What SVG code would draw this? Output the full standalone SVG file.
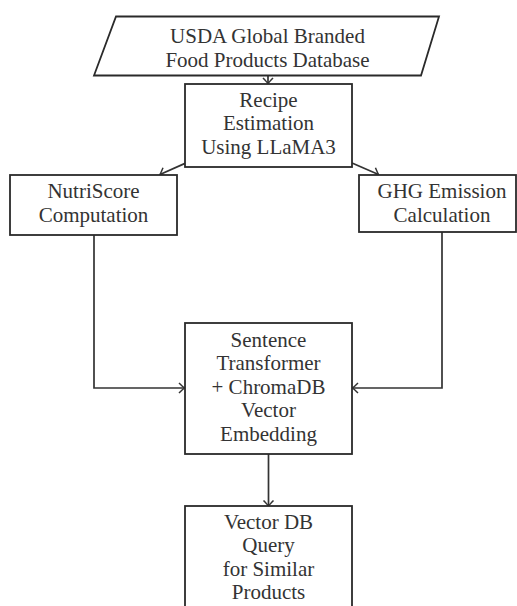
<svg xmlns="http://www.w3.org/2000/svg" width="517" height="606" viewBox="0 0 517 606">
<style>
.box{fill:#fff;stroke:#2a2a2a;stroke-width:1.8}
.t{font-family:"Liberation Serif","Times New Roman",serif;font-size:21px;fill:#333;text-anchor:middle}
.c{fill:none;stroke:#333;stroke-width:1.7}
</style>
<defs>
<marker id="arr" markerUnits="userSpaceOnUse" markerWidth="14" markerHeight="14" viewBox="-8 -7 10 14" refX="0" refY="0" orient="auto">
<path d="M-5.5,-5 Q-1.5,-1.2 0,0 Q-1.5,1.2 -5.5,5" fill="none" stroke="#333" stroke-width="1.5"/>
</marker>
</defs>
<rect width="517" height="606" fill="#fff"/>
<g id="connectors">
<path class="c" d="M268,76 L268,83.5" marker-end="url(#arr)"/>
<path class="c" d="M185,163.4 L160,174.5" marker-end="url(#arr)"/>
<path class="c" d="M352,163 L378.5,174.5" marker-end="url(#arr)"/>
<path class="c" d="M94,235 L94,388 L184.5,388" marker-end="url(#arr)"/>
<path class="c" d="M442,232 L442,388 L352.5,388" marker-end="url(#arr)"/>
<path class="c" d="M268.5,454 L268.5,506" marker-end="url(#arr)"/>
</g>
<g id="usda">
<polygon class="box" points="116,16.5 439,16.5 421,75.5 94,75.5"/>
<text class="t" x="267.5" y="43">USDA Global Branded</text>
<text class="t" x="267.5" y="66.5">Food Products Database</text>
</g>
<g id="recipe">
<rect class="box" x="185" y="84" width="167" height="83"/>
<text class="t" x="268.5" y="106.5">Recipe</text>
<text class="t" x="268.5" y="130">Estimation</text>
<text class="t" x="268.5" y="153.5">Using LLaMA3</text>
</g>
<g id="nutriscore">
<rect class="box" x="10" y="175" width="167" height="60"/>
<text class="t" x="93.5" y="198">NutriScore</text>
<text class="t" x="93.5" y="221.5">Computation</text>
</g>
<g id="ghg">
<rect class="box" x="359" y="175" width="157" height="57"/>
<text class="t" x="442" y="198">GHG Emission</text>
<text class="t" x="442" y="221.5">Calculation</text>
</g>
<g id="embedding">
<rect class="box" x="185" y="323" width="167" height="131"/>
<text class="t" x="268.5" y="346.5">Sentence</text>
<text class="t" x="268.5" y="370">Transformer</text>
<text class="t" x="268.5" y="393.5">+ ChromaDB</text>
<text class="t" x="268.5" y="417">Vector</text>
<text class="t" x="268.5" y="440.5">Embedding</text>
</g>
<g id="query">
<rect class="box" x="185" y="506" width="167" height="110"/>
<text class="t" x="268.5" y="528.5">Vector DB</text>
<text class="t" x="268.5" y="552">Query</text>
<text class="t" x="268.5" y="575.5">for Similar</text>
<text class="t" x="268.5" y="599">Products</text>
</g>
</svg>
